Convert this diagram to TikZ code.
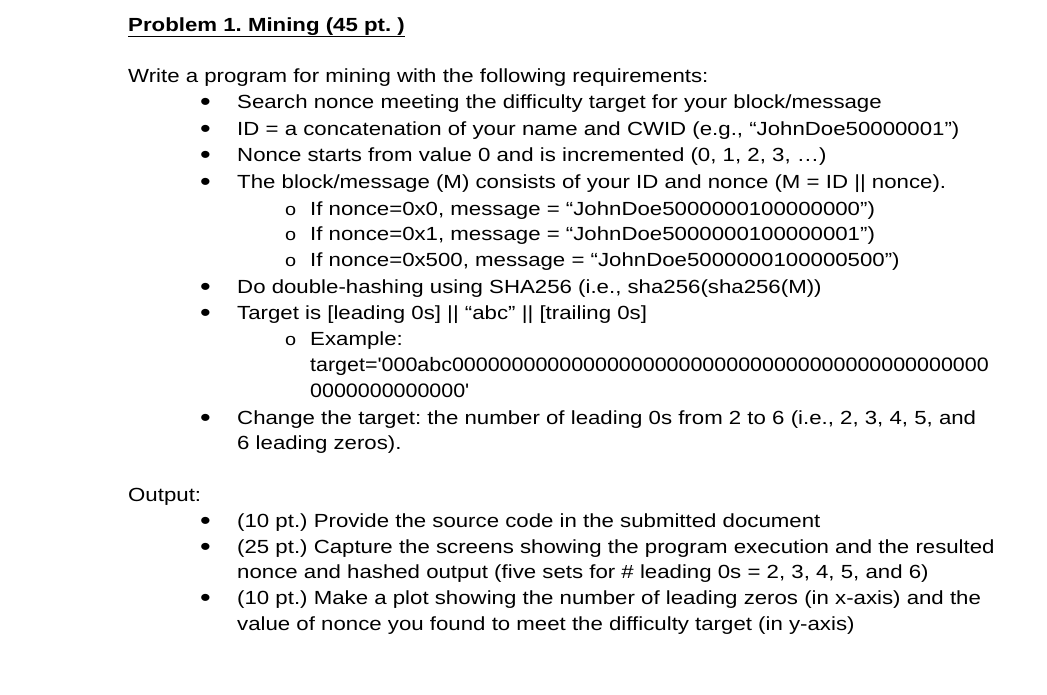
\documentclass[tikz,border=0pt]{standalone}
\usepackage{fontspec}
\setmainfont{Liberation Sans}[FakeStretch=1.17]
\newfontfamily\plainfont{Liberation Sans}[FakeStretch=1.1]
\frenchspacing
\begin{document}
\begin{tikzpicture}[x=1pt,y=-1pt,
 tx/.style={anchor=base west,inner sep=0pt,font=\fontsize{19}{19}\selectfont},
 bl/.style={anchor=base west,inner sep=0pt,font=\fontsize{26}{26}\selectfont}]
\useasboundingbox[fill=white] (0,0) rectangle (1047,694);
\node[tx,font=\fontsize{19}{19}\selectfont\bfseries] (t) at (128,31) {\underline{Problem 1. Mining (45 pt. )}};
\node[tx] (w) at (128,82) {Write a program for mining with the following requirements:};
\foreach \y/\s [count=\i] in {108/{Search nonce meeting the difficulty target for your block/message},
 135/{ID = a concatenation of your name and CWID (e.g., “JohnDoe50000001”)},
 161/{Nonce starts from value 0 and is incremented (0, 1, 2, 3, …)},
 188/{The block/message (M) consists of your ID and nonce (M = ID || nonce).},
 293/{Do double-hashing using SHA256 (i.e., sha256(sha256(M))},
 319/{Target is [leading 0s] || “abc” || [trailing 0s]},
 424/{Change the target: the number of leading 0s from 2 to 6 (i.e., 2, 3, 4, 5, and},
 527/{(10 pt.) Provide the source code in the submitted document},
 553/{(25 pt.) Capture the screens showing the program execution and the resulted},
 604/{(10 pt.) Make a plot showing the number of leading zeros (in x-axis) and the}}
 {\node[bl] (b\i) at (200,\y+2) {•}; \node[tx] (l\i) at (237,\y) {\s};}
\foreach \y/\s [count=\i] in {215/{If nonce=0x0, message = “JohnDoe5000000100000000”)},
 240/{If nonce=0x1, message = “JohnDoe5000000100000001”)},
 266/{If nonce=0x500, message = “JohnDoe5000000100000500”)},
 345/{Example:}}
 {\node[tx,font=\fontsize{17}{17}\selectfont] (o\i) at (285,\y) {o}; \node[tx] (s\i) at (310,\y) {\s};}
\node[tx,font=\fontsize{19.5}{19.5}\plainfont] (e1) at (310,371) {target='000abc000000000000000000000000000000000000000000000};
\node[tx,font=\fontsize{19.5}{19.5}\plainfont] (e2) at (310,397) {0000000000000'};
\node[tx] (c1) at (237,449) {6 leading zeros).};
\node[tx] (out) at (128,501) {Output:};
\node[tx] (c2) at (237,578) {nonce and hashed output (five sets for \# leading 0s = 2, 3, 4, 5, and 6)};
\node[tx] (c3) at (237,630) {value of nonce you found to meet the difficulty target (in y-axis)};
\end{tikzpicture}
\end{document}
